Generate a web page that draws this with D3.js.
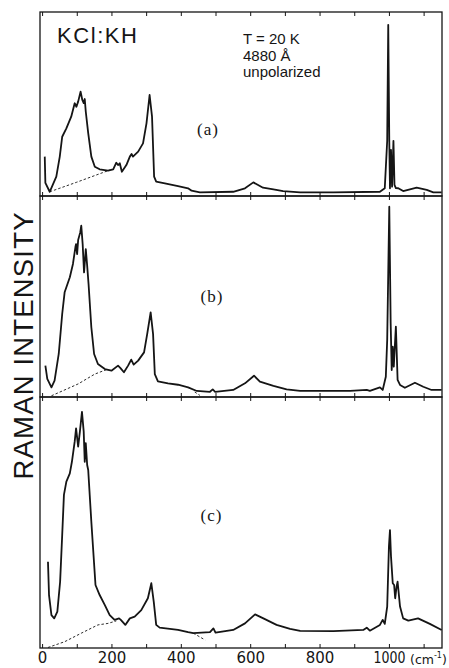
<!DOCTYPE html>
<html><head><meta charset="utf-8">
<script src="https://cdn.jsdelivr.net/npm/d3@7"></script>
<style>html,body{margin:0;padding:0;background:#fff;}svg{display:block;}</style>
</head><body><div id="chart"></div>
<script>
// ---- data (Raman shift in cm^-1, intensity in % of panel full scale) ----
const spectrumA = [[7.7,21.4],[9.5,7.1],[22,2.3],[41,10.5],[51,21.4],[58,32.2],[70,36.8],[84,43.1],[94,50.4],[99,48.5],[104,51.3],[111,56.7],[116,52.2],[120,50.5],[123,52.7],[126,45.8],[133,34.2],[142,21.4],[152,15.9],[166,14.5],[190,13.8],[205,14.5],[214,18.1],[219,16.8],[224,17.8],[230,13.2],[243,16.8],[253,21.4],[258,22.8],[262,21.4],[277,24.1],[291,28.6],[301,39.5],[310,54.9],[317,43.1],[323,10.5],[329,7.8],[354,6.9],[392,5.4],[421,4.2],[431,2.9],[455,2.0],[551,2.3],[585,4.2],[609,7.4],[637,4.5],[667,3.6],[695,2.7],[744,2.0],[840,2.0],[974,2.3],[988,4.2],[995,30],[998,93],[1001,30],[1003,4.2],[1006,25],[1009,5.1],[1013,30],[1016,6.0],[1020,4.3],[1027,4.2],[1041,2.7],[1080,4.5],[1109,3.3],[1128,2.0],[1152,2.0]];
const baselineA = [[22,2.3],[100,7.5],[195,14.1]];

const spectrumB = [[9.5,15.6],[15,9.0],[27,4.8],[36,8.1],[48,21.4],[58,41.3],[65,52.1],[80,59.6],[89,66.2],[96,74.5],[98,76.1],[101,71.1],[104,78.1],[110,81.9],[113,85.2],[117,76.1],[121,62.0],[126,73.6],[130,65.3],[134,56.2],[142,34.7],[150,21.4],[161,16.4],[181,13.9],[200,13.1],[219,15.6],[226,14.4],[236,12.3],[248,15.6],[257,18.6],[264,16.1],[277,18.1],[294,22.2],[303,31.3],[313,42.1],[320,31.3],[325,11.4],[334,7.8],[363,6.8],[392,6.1],[421,4.8],[446,3.0],[484,2.6],[492,3.8],[499,2.6],[551,3.5],[585,6.8],[611,10.6],[628,7.6],[667,5.5],[705,3.8],[744,3.0],[888,3.0],[936,3.5],[945,3.0],[974,4.8],[982,3.5],[991,10.1],[995,28.4],[1001,94.7],[1005,36.7],[1008,13.4],[1011,25.0],[1014,15.1],[1020,35.0],[1025,8.5],[1032,6.0],[1046,4.6],[1075,7.1],[1099,5.1],[1123,3.5],[1152,3.5]];
const baselineB = [[27,0.6],[104,6.5],[152,11.4],[190,13.9]];
const baselineB2 = [[440,2.5],[455,0.8]];

const spectrumC = [[17,34.4],[20,21.1],[27,13.1],[35,11.8],[44,14.5],[52,26.4],[58,45.0],[63,61.0],[70,66.3],[80,69.6],[86,74.2],[94,82.2],[98,87.5],[104,80.2],[109,86.2],[115,94.1],[120,86.2],[123,74.2],[126,81.6],[130,72.9],[133,70.9],[142,50.3],[154,25.1],[166,21.1],[181,17.1],[195,13.1],[209,11.2],[222,11.8],[227,11.2],[240,9.2],[253,11.8],[267,12.5],[286,15.1],[305,19.8],[315,25.8],[322,18.4],[329,9.2],[339,8.1],[392,7.2],[421,6.3],[436,5.9],[484,6.3],[494,7.8],[500,6.1],[551,7.2],[585,9.8],[614,13.4],[638,11.8],[676,9.2],[715,7.6],[744,6.8],[840,6.7],[926,7.2],[936,8.1],[945,6.9],[974,9.2],[982,11.2],[988,9.6],[995,16.5],[1000,40.4],[1003,47.0],[1006,36.4],[1011,25.8],[1015,25.1],[1018,19.8],[1022,24.4],[1025,26.4],[1032,16.5],[1041,11.8],[1056,10.9],[1084,11.8],[1118,9.6],[1152,7.2]];
const baselineC = [[17,0.2],[65,2.5],[113,5.9],[161,9.2],[190,9.8],[214,10.8]];
const baselineC2 = [[436,5.9],[470,3.2]];

const panelLabels = ["(a)", "(b)", "(c)"];
const xTickValues = [0,100,200,300,400,500,600,700,800,900,1000,1100];
const xTickLabels = [0,200,400,600,800,1000];
const xDomain = [-6, 1153];
const yDomain = [0, 100];

// ---- layout ----
const W = 449, H = 668;
const left = 40, right = 442;
const panels = [
  {top: 12, bottom: 196, spec: spectrumA, base: [baselineA], label: panelLabels[0], lx: 208, ly: 135},
  {top: 196, bottom: 397, spec: spectrumB, base: [baselineB, baselineB2], label: panelLabels[1], lx: 212, ly: 302},
  {top: 397, bottom: 648, spec: spectrumC, base: [baselineC, baselineC2], label: panelLabels[2], lx: 211.5, ly: 521}
];

const svg = d3.select("#chart").append("svg").attr("width", W).attr("height", H);
svg.append("rect").attr("width", W).attr("height", H).attr("fill", "#fff");

const x = d3.scaleLinear().domain(xDomain).range([left, right]);
const ink = "#151515";

panels.forEach((p, i) => {
  const y = d3.scaleLinear().domain(yDomain).range([p.bottom, p.top]);
  const g = svg.append("g");
  g.append("g").attr("transform", `translate(0,${p.top})`)
    .call(d3.axisTop(x).tickValues(xTickValues).tickSize(-4).tickFormat(""))
    .call(s => { s.select(".domain").remove(); s.selectAll("line").attr("stroke", ink).attr("stroke-width", 1); });
  g.append("g").attr("transform", `translate(0,${p.bottom})`)
    .call(d3.axisBottom(x).tickValues(xTickValues).tickSize(-4).tickFormat(""))
    .call(s => { s.select(".domain").remove(); s.selectAll("line").attr("stroke", ink).attr("stroke-width", 1); });
  g.append("rect").attr("x", left).attr("y", p.top).attr("width", right - left).attr("height", p.bottom - p.top)
    .attr("fill", "none").attr("stroke", ink).attr("stroke-width", 1.3);
  const line = d3.line().x(d => x(d[0])).y(d => y(d[1]));
  p.base.forEach(b => {
    g.append("path").datum(b).attr("d", line).attr("fill", "none")
      .attr("stroke", ink).attr("stroke-width", 0.9).attr("stroke-dasharray", "2.5,2");
  });
  g.append("path").datum(p.spec).attr("d", line).attr("fill", "none")
    .attr("stroke", ink).attr("stroke-width", 1.8).attr("stroke-linejoin", "round");
  g.append("text").attr("x", p.lx).attr("y", p.ly).attr("text-anchor", "middle")
    .attr("font-family", "Liberation Serif, serif").attr("font-size", 17).attr("letter-spacing", 1)
    .attr("fill", ink).text(p.label);
});

// bottom tick labels
const labG = svg.append("g").attr("transform", `translate(0,${panels[2].bottom})`)
  .call(d3.axisBottom(x).tickValues(xTickLabels).tickSize(0).tickPadding(4).tickFormat(d3.format("d")));
labG.select(".domain").remove();
labG.selectAll("text").attr("font-family", "DejaVu Sans, sans-serif").attr("font-size", 15).attr("fill", ink)
  .filter(d => d === 1000).attr("textLength", 32).attr("lengthAdjust", "spacingAndGlyphs");

const unit = svg.append("text").attr("x", 410).attr("y", 664).attr("font-family", "DejaVu Sans, sans-serif")
  .attr("font-size", 12.5).attr("fill", ink);
unit.append("tspan").text("(cm");
unit.append("tspan").attr("font-size", 8).attr("dy", -6).text("-1");
unit.append("tspan").attr("dy", 6).text(")");

// y title
svg.append("text").attr("transform", "translate(33,346) rotate(-90)").attr("text-anchor", "middle")
  .attr("font-family", "Liberation Sans, sans-serif").attr("font-size", 27.5)
  .attr("textLength", 267).attr("lengthAdjust", "spacing").attr("fill", ink).text("RAMAN INTENSITY");

// annotations
svg.append("text").attr("x", 57).attr("y", 43).attr("font-family", "Liberation Sans, sans-serif")
  .attr("font-size", 22).attr("textLength", 80).attr("lengthAdjust", "spacing").attr("fill", ink).text("KCl:KH");
const ann = svg.append("g").attr("font-family", "Liberation Sans, sans-serif").attr("font-size", 15).attr("fill", ink);
ann.append("text").attr("x", 243).attr("y", 44).text("T = 20  K");
ann.append("text").attr("x", 243).attr("y", 61).text("4880 Å");
ann.append("text").attr("x", 243).attr("y", 77).text("unpolarized");
</script></body></html>
